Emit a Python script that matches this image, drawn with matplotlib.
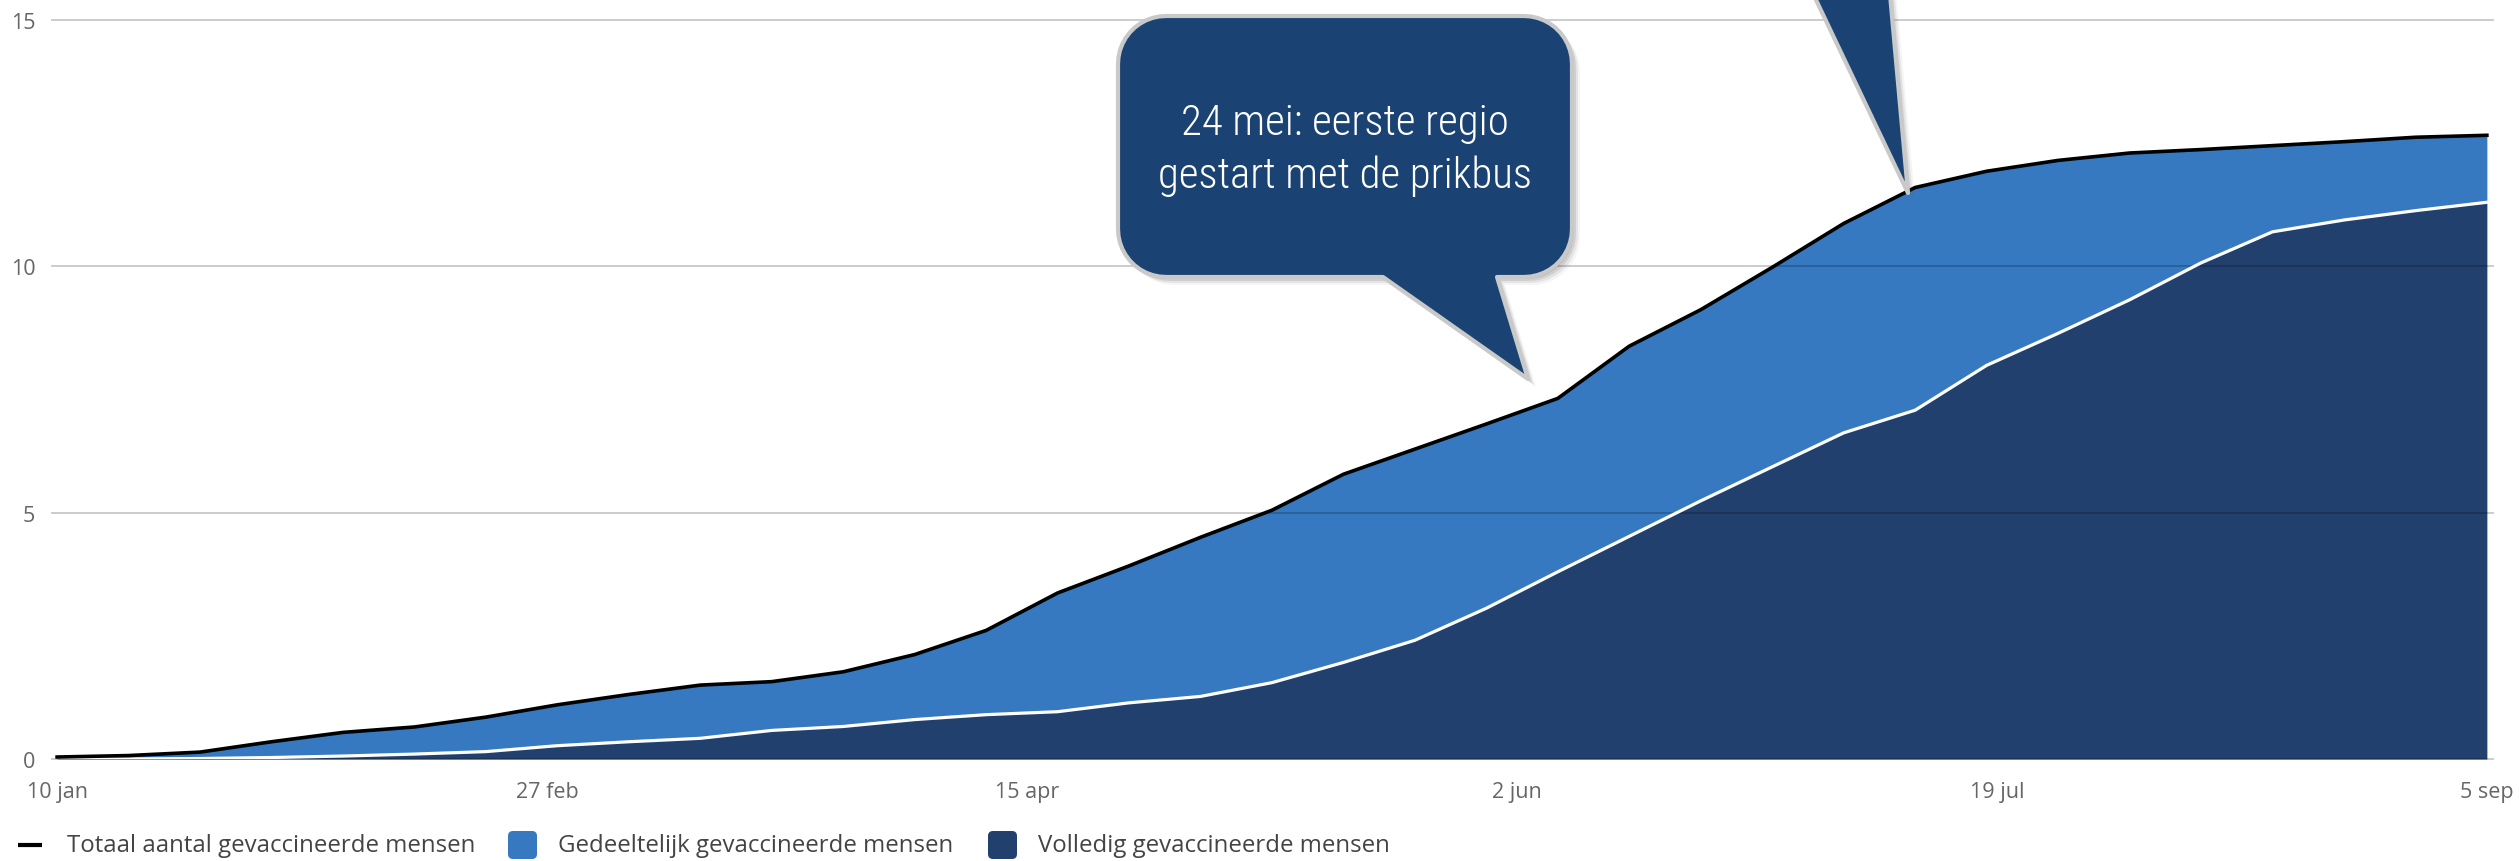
import numpy as np
import pandas as pd
import matplotlib
matplotlib.use('Agg')
import matplotlib.pyplot as plt
from matplotlib import font_manager
from matplotlib.patches import Polygon, FancyBboxPatch

# weekly totals, in millions of people
start_date = '2021-01-10'
totaal = [0.04, 0.07, 0.14, 0.35, 0.54, 0.65, 0.85, 1.10, 1.31, 1.50,
          1.57, 1.77, 2.12, 2.61, 3.37, 3.92, 4.50, 5.05, 5.78, 6.29,
          6.80, 7.32, 8.38, 9.12, 9.98, 10.87, 11.60, 11.93, 12.15, 12.30,
          12.37, 12.45, 12.53, 12.62, 12.66]
volledig = [0.00, 0.00, 0.01, 0.03, 0.06, 0.10, 0.15, 0.27, 0.35, 0.42,
            0.58, 0.66, 0.80, 0.90, 0.96, 1.14, 1.27, 1.55, 1.96, 2.41,
            3.06, 3.80, 4.52, 5.24, 5.93, 6.62, 7.08, 7.99, 8.64, 9.32,
            10.07, 10.70, 10.94, 11.13, 11.30]

tick_dates = ['2021-01-10', '2021-02-27', '2021-04-15', '2021-06-02', '2021-07-19', '2021-09-05']
tick_labels = ['10 jan', '27 feb', '15 apr', '2 jun', '19 jul', '5 sep']
y_ticks = [0, 5, 10, 15]
legend_labels = ['Totaal aantal gevaccineerde mensen',
                 'Gedeeltelijk gevaccineerde mensen',
                 'Volledig gevaccineerde mensen']
callout_text = '24 mei: eerste regio\ngestart met de prikbus'

dates = pd.date_range(start_date, periods=len(totaal), freq='7D')
totaal = np.array(totaal)
volledig = np.array(volledig)

light_blue = '#3679c0'
dark_blue = '#22406e'
box_blue = '#1a4273'
border_grey = '#c9c9c9'

avail = {f.name for f in font_manager.fontManager.ttflist}


def pick(names):
    for n in names:
        if n in avail:
            return n
    return 'DejaVu Sans'


label_font = pick(['Open Sans', 'Lato', 'DejaVu Sans'])
callout_font = pick(['Liberation Sans Narrow', 'Roboto Condensed', 'DejaVu Sans'])
plt.rcParams['font.family'] = [label_font, 'DejaVu Sans']

W, H = 2519, 862
fig = plt.figure(figsize=(W / 100, H / 100), dpi=100)

# plot area in pixels: x 52..2493, y 21..760
ax = fig.add_axes([52 / W, (H - 760) / H, (2493 - 52) / W, (760 - 21) / H])

ax.fill_between(dates, 0, volledig, color=dark_blue, lw=0, zorder=1)
ax.fill_between(dates, volledig, totaal, color=light_blue, lw=0, zorder=1)
ax.plot(dates, volledig, color='white', lw=2.3, zorder=3, solid_joinstyle='round')
ax.plot(dates, totaal, color='black', lw=2.6, zorder=4, solid_joinstyle='round')

# grid lines drawn over the areas, translucent so they darken the fills
for v in y_ticks:
    ax.axhline(v, color='black', alpha=0.2, lw=1.4, zorder=2, clip_on=False)

ax.set_ylim(0, 15)
ax.set_xlim(dates[0] - pd.Timedelta(days=0.5), dates[-1] + pd.Timedelta(days=0.6))
ax.set_yticks(y_ticks)
ax.set_yticklabels([str(v) for v in y_ticks])
ax.set_xticks(pd.to_datetime(tick_dates))
ax.set_xticklabels(tick_labels)
for s in ax.spines.values():
    s.set_visible(False)
ax.tick_params(axis='both', length=0, colors='#666666', labelsize=15.5)
ax.tick_params(axis='y', pad=12)
ax.tick_params(axis='x', pad=16)
ax.patch.set_visible(False)

# overlay in pixel coordinates for legend and callouts
ov = fig.add_axes([0, 0, 1, 1])
ov.set_xlim(0, W)
ov.set_ylim(H, 0)
ov.axis('off')
ov.patch.set_visible(False)


def rounded_callout(x0, x1, y0, y1, r, bx0, bx1, tip):
    pts = []

    def arc(cx, cy, a0, a1):
        for a in np.linspace(np.radians(a0), np.radians(a1), 12):
            pts.append((cx + r * np.cos(a), cy + r * np.sin(a)))

    arc(x0 + r, y0 + r, 180, 270)
    arc(x1 - r, y0 + r, 270, 360)
    arc(x1 - r, y1 - r, 0, 90)
    pts.append((bx1, y1))
    pts.append(tip)
    pts.append((bx0, y1))
    arc(x0 + r, y1 - r, 90, 180)
    return np.array(pts)


shape = rounded_callout(1118, 1572, 17, 278, 48, 1383, 1497, (1528, 380))
for off, a in [(8, 0.06), (6, 0.10), (4, 0.14), (2, 0.18)]:
    ov.add_patch(Polygon(shape + off, closed=True, fc='#555555', ec='none', alpha=a, zorder=5))
ov.add_patch(Polygon(shape, closed=True, fc=box_blue, ec=border_grey, lw=3, zorder=6,
                     joinstyle='round'))
ov.text(1345, 150, callout_text, color='white', fontsize=31, fontweight='light',
        family=[callout_font, 'DejaVu Sans'],
        ha='center', va='center', linespacing=1.35, zorder=7)

# second callout, box sits above the visible area
ptr = np.array([(1787, -60), (1885, -60), (1908, 194)])
for off, a in [(7, 0.06), (5, 0.10), (3, 0.14), (1, 0.18)]:
    ov.add_patch(Polygon(ptr + off, closed=True, fc='#555555', ec='none', alpha=a, zorder=5))
ov.add_patch(Polygon(ptr, closed=True, fc=box_blue, ec=border_grey, lw=3, zorder=6,
                     joinstyle='round'))

# legend
leg_y = 846
ov.plot([18, 42], [leg_y, leg_y], color='black', lw=3, solid_capstyle='butt')
ov.text(67, leg_y, legend_labels[0], color='#444444', fontsize=17.3, va='center', ha='left')
for x, c, lab in [(508, light_blue, legend_labels[1]), (988, dark_blue, legend_labels[2])]:
    ov.add_patch(FancyBboxPatch((x + 3, leg_y - 11), 23, 22, boxstyle='round,pad=3,rounding_size=5',
                                fc=c, ec='none'))
    ov.text(x + 50, leg_y, lab, color='#444444', fontsize=17.3, va='center', ha='left')

fig.savefig('out.png', dpi=100)
